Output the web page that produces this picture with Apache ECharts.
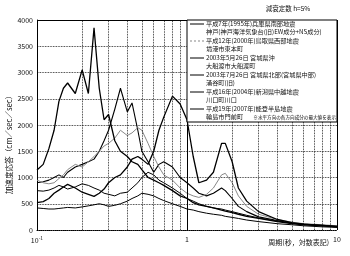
<!DOCTYPE html>
<html><head><meta charset="utf-8">
<script src="https://cdn.jsdelivr.net/npm/echarts@6/dist/echarts.min.js"></script>
<style>html,body{margin:0;padding:0;background:#fff}#c{width:350px;height:256px}</style>
</head><body><div id="c"></div>
<script>
// Period grid (s)
const periods = [0.1,0.11,0.12,0.13,0.14,0.15,0.16,0.18,0.2,0.22,0.24,0.26,0.28,0.3,0.33,0.36,0.4,0.43,0.47,0.5,0.55,0.6,0.65,0.7,0.8,0.9,1.0,1.1,1.2,1.35,1.5,1.7,1.8,2.0,2.2,2.5,3,4,5,6,8,10];
// Response values (cm/sec/sec)
const kobe     = [900,920,950,1000,1050,1000,1100,1200,1250,1300,1350,1500,1700,1900,2300,2700,2250,2420,1900,1500,1300,1100,1250,1300,1200,1000,900,800,700,650,700,800,750,600,450,350,250,180,130,110,80,60];
const sakai    = [950,900,880,900,980,1050,1150,1250,1200,1300,1400,1500,1600,1650,1750,1900,1800,1850,1950,1900,1650,1400,1200,1050,950,800,700,650,620,680,800,1050,1080,900,650,450,300,200,150,120,100,80];
const ofunato  = [1143,1250,1550,1900,2450,2700,2800,2600,3050,2600,3850,2700,2100,2200,1700,1500,1400,1300,1250,1150,1000,950,900,850,750,650,600,520,480,450,420,380,360,330,300,260,220,160,120,100,80,60];
const wakuya   = [750,740,760,800,850,820,780,820,880,850,800,760,700,680,650,700,720,800,900,1000,1100,1050,950,900,800,700,600,550,500,450,420,400,380,350,320,280,230,170,130,110,90,70];
const kawaguchi= [520,540,600,700,760,820,870,800,720,680,640,700,780,900,1000,1050,1200,1350,1400,1350,1250,1500,1900,2150,2550,2400,2100,1400,900,950,1100,1650,1650,1300,800,550,350,200,140,110,90,70];
const monzen   = [420,410,400,400,410,420,430,420,440,460,480,500,480,450,470,500,550,600,650,700,680,650,600,560,500,450,400,380,350,320,300,280,260,240,220,190,160,120,100,80,60,50];
// Tick labels
const xTicks = {0.1:'{b|10}{s|-1}', 1:'{b|1}', 10:'{b|10}'};
const yTicks = [0,500,1000,1500,2000,2500,3000,3500,4000];
const minorPeriods = [0.2,0.3,0.4,0.5,0.6,0.7,0.8,0.9,2,3,4,5,6,7,8,9];

const seriesDefs = [
  {name:'kobe', data:kobe, color:'#000', type:'solid', w:1.1},
  {name:'sakai', data:sakai, color:'#888', type:'solid', w:1},
  {name:'ofunato', data:ofunato, color:'#000', type:'solid', w:1.3},
  {name:'wakuya', data:wakuya, color:'#000', type:'solid', w:1},
  {name:'kawaguchi', data:kawaguchi, color:'#000', type:'solid', w:1.3},
  {name:'monzen', data:monzen, color:'#000', type:'solid', w:1}
];
const legendRows = [
  ['平成7年(1995年)兵庫県南部地震','神戸(神戸海洋気象台(旧)EW成分+NS成分)','#000','solid'],
  ['平成12年(2000年)鳥取県西部地震','境港市東本町','#888','dashed'],
  ['2003年5月26日 宮城県沖','大船渡市大船渡町','#000','solid'],
  ['2003年7月26日 宮城県北部(宮城県中部)','涌谷町(旧)','#000','solid'],
  ['平成16年(2004年)新潟県中越地震','川口町川口','#000','solid'],
  ['平成19年(2007年)能登半島地震','輪島市門前町','#000','solid']
];

const FF = '"Noto Sans CJK JP", "Noto Sans", sans-serif';
const chart = echarts.init(document.getElementById('c'));
const series = seriesDefs.map(s => ({
  type:'line', name:s.name, showSymbol:false, symbol:'none', smooth:false,
  data: periods.map((p,i)=>[p, s.data[i]]),
  lineStyle:{color:s.color, width:s.w, type:s.type}, z:3
}));
series.push({
  type:'line', data:[], silent:true,
  markLine:{silent:true, symbol:'none', label:{show:false}, animation:false,
    data: minorPeriods.map(p=>({xAxis:p, lineStyle:{type:'dotted', color:'#000', width:0.8}}))
      .concat([{xAxis:1, lineStyle:{type:'solid', color:'#000', width:1}},
               {xAxis:10, lineStyle:{type:'solid', color:'#000', width:1}},
               {yAxis:4000, lineStyle:{type:'solid', color:'#000', width:1}}])
  }
});

const graphics = [];
const lx = 187, ly = 20, lw = 150, lh = 102;
graphics.push({type:'rect', shape:{x:lx, y:ly, width:lw, height:lh}, style:{fill:'#fff', stroke:'#000', lineWidth:1}, z:10});
legendRows.forEach((r,i)=>{
  const y1 = 24 + i*17;
  graphics.push({type:'line', shape:{x1:190, y1:y1, x2:204, y2:y1}, style:{stroke:r[2], lineWidth:1, lineDash: r[3]==='dashed'?[2,2]:null}, z:11});
  graphics.push({type:'text', x:206, y:y1, style:{text:r[0], font:'6.2px '+FF, fill:'#111', verticalAlign:'middle'}, z:11});
  graphics.push({type:'text', x:206, y:y1+8, style:{text:r[1], font:'6.2px '+FF, fill:'#111', verticalAlign:'middle'}, z:11});
});
graphics.push({type:'text', x:336, y:117, style:{text:'※水平方向の各方向成分の最大値を表示', font:'4.6px '+FF, fill:'#000', align:'right', verticalAlign:'middle'}, z:11});
graphics.push({type:'text', x:288, y:9, style:{text:'減衰定数 h=5%', font:'6.5px '+FF, fill:'#111', align:'center', verticalAlign:'middle'}});
graphics.push({type:'text', x:329, y:242, style:{text:'周期(秒，対数表記)', font:'7px '+FF, fill:'#111', align:'right', verticalAlign:'middle'}});
graphics.push({type:'text', x:9, y:143, rotation:Math.PI/2, style:{text:'加速度応答（cm／sec／sec）', font:'7.6px '+FF, fill:'#111', align:'center', verticalAlign:'middle'}});

chart.setOption({
  animation:false,
  backgroundColor:'#fff',
  grid:{left:37, right:13, top:20, bottom:26},
  xAxis:{type:'log', logBase:10, min:0.1, max:10,
    axisLine:{show:true, lineStyle:{color:'#000', type:'dotted', width:1}},
    axisTick:{show:false}, splitLine:{show:false},
    axisLabel:{margin:6, formatter:v=>xTicks[+v.toPrecision(3)]||'', rich:{b:{fontSize:7,fontFamily:FF,color:'#111'}, s:{fontSize:5,fontFamily:FF,color:'#111',verticalAlign:'top',padding:[0,0,4,0]}}}},
  yAxis:{type:'value', min:0, max:4000, interval:500,
    axisLine:{show:true, lineStyle:{color:'#000', width:1}},
    axisTick:{show:false},
    splitLine:{show:true, lineStyle:{color:'#000', type:'dotted', width:0.8}},
    axisLabel:{margin:4, fontSize:7, fontFamily:FF, color:'#111', formatter:v=>yTicks.includes(v)?String(v):''}},
  series: series,
  graphic: graphics
});
</script></body></html>
